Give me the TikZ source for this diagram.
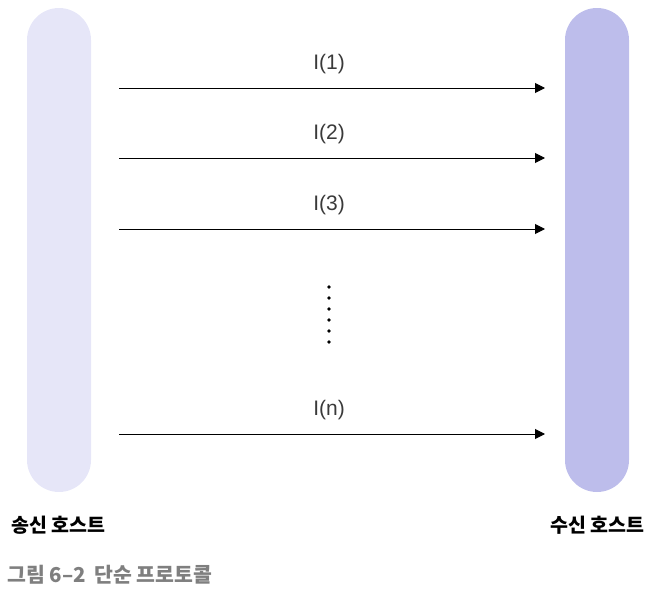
\documentclass[tikz,border=0pt]{standalone}
\usepackage{fontspec}
\setmainfont{Noto Sans CJK KR}
\newfontfamily\msgfont{Liberation Sans}
\usetikzlibrary{arrows.meta}
\definecolor{sendcol}{HTML}{E6E6F8}
\definecolor{recvcol}{HTML}{BDBDEB}
\definecolor{capgray}{HTML}{7F7F7F}
\definecolor{txtgray}{HTML}{3A3A3A}
\tikzset{
  host/.style={rounded corners=32pt, minimum width=64pt, minimum height=484pt, inner sep=0pt},
  msg/.style={-{Triangle[length=10pt,width=10pt]}, line width=1pt},
  msglabel/.style={font=\msgfont\fontsize{21}{24}\selectfont, text=txtgray},
  hostlabel/.style={font=\fontsize{19.5}{22}\selectfont\bfseries, anchor=west},
}
\begin{document}
\begin{tikzpicture}[x=1pt,y=-1pt]
\useasboundingbox (0,0) rectangle (649,597);
% hosts
\node[host, fill=sendcol] (sender) at (59,250) {};
\node[host, fill=recvcol] (receiver) at (597,250) {};
% message ends
\coordinate (s1) at (119,88);  \coordinate (r1) at (545,88);
\coordinate (s2) at (119,158); \coordinate (r2) at (545,158);
\coordinate (s3) at (119,229); \coordinate (r3) at (545,229);
\coordinate (sn) at (119,434); \coordinate (rn) at (545,434);
\draw[msg] (s1) -- (r1);
\draw[msg] (s2) -- (r2);
\draw[msg] (s3) -- (r3);
\draw[msg] (sn) -- (rn);
\node[msglabel] (l1) at (329,64) {I(1)};
\node[msglabel] (l2) at (329,134) {I(2)};
\node[msglabel] (l3) at (329,205) {I(3)};
\node[msglabel] (ln) at (329,410) {I(n)};
% dots
\foreach \y in {287,298,309,320,331,342}
  \fill (329,\y) circle [radius=1.8];
% labels
\node[hostlabel] (sendlabel) at (8,525) {송신 호스트};
\node[hostlabel] (recvlabel) at (547,525) {수신 호스트};
\node[hostlabel, font=\fontsize{20.5}{23}\selectfont\bfseries, text=capgray] (caption) at (4,575) {그림 6–2\hspace{0.4em}단순 프로토콜};
\end{tikzpicture}
\end{document}
